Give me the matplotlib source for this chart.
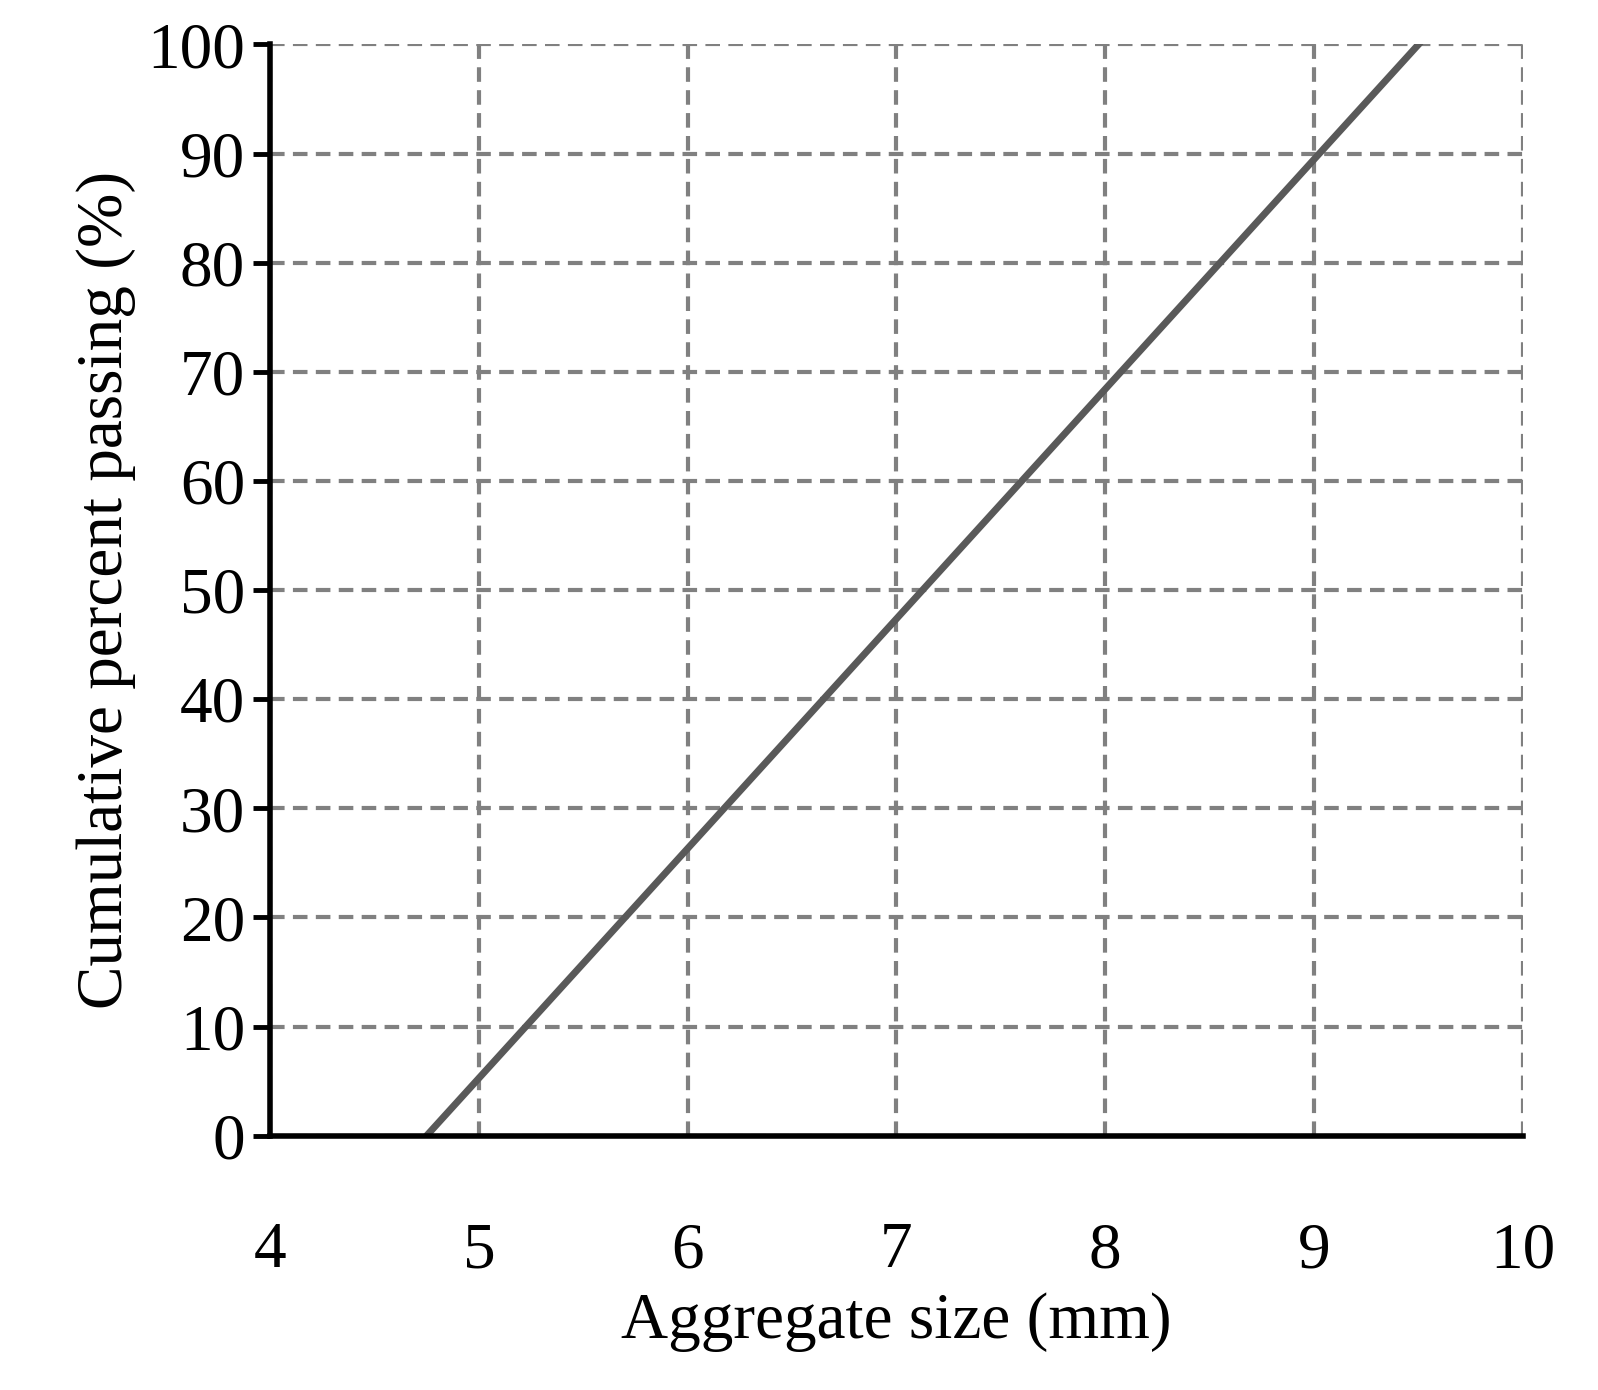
import matplotlib
matplotlib.use("Agg")
import matplotlib.pyplot as plt

size_mm = [4.75, 9.5]
passing = [0, 100]
x_ticks = [4, 5, 6, 7, 8, 9, 10]
y_ticks = [0, 10, 20, 30, 40, 50, 60, 70, 80, 90, 100]

plt.rcParams['font.family'] = ['Liberation Serif', 'DejaVu Serif']

fig = plt.figure(figsize=(15.98, 13.9), dpi=100)
ax = fig.add_axes([0.169, 0.183, 0.784, 0.785])

ax.plot(size_mm, passing, color='#595959', lw=5, zorder=3)

ax.set_xlim(4, 10)
ax.set_ylim(0, 100)
ax.set_xticks(x_ticks)
ax.set_yticks(y_ticks)
ax.grid(True, color='#808080', linestyle=(0, (3.5, 2)), lw=3)
ax.set_axisbelow(True)

for pos in ['top', 'right']:
    ax.spines[pos].set_visible(False)
for pos in ['left', 'bottom']:
    ax.spines[pos].set_linewidth(4)
    ax.spines[pos].set_zorder(4)

ax.tick_params(axis='y', labelsize=47, length=12, width=3.5, pad=6)
ax.tick_params(axis='x', labelsize=47, length=0, pad=62)

ax.set_xlabel('Aggregate size (mm)', fontsize=47, labelpad=8)
ax.set_ylabel('Cumulative percent passing (%)', fontsize=47, labelpad=8)

fig.savefig('out.png', dpi=100)
